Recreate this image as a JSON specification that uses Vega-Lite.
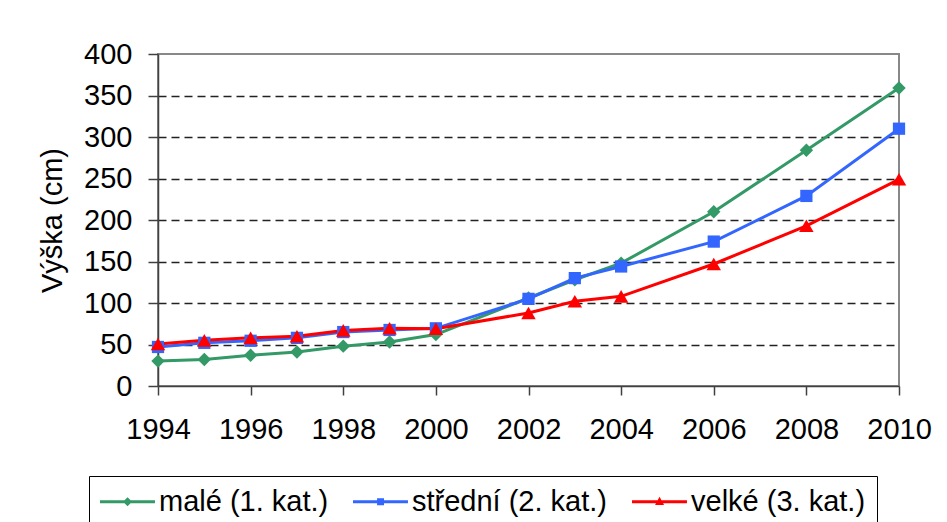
{
  "$schema": "https://vega.github.io/schema/vega-lite/v6.json",
  "autosize": "none",
  "width": 741,
  "height": 332,
  "padding": {"left": 158, "top": 54, "right": 48, "bottom": 136},
  "background": "white",
  "config": {
    "font": "Liberation Sans",
    "view": {"stroke": "#888888", "strokeWidth": 2},
    "axis": {
      "labelFont": "Liberation Sans",
      "titleFont": "Liberation Sans",
      "labelFontSize": 29,
      "titleFontSize": 29,
      "titleFontWeight": "normal",
      "labelColor": "black",
      "titleColor": "black",
      "domainColor": "#404040",
      "domainWidth": 1.5,
      "tickColor": "#404040",
      "tickWidth": 1.5
    },
    "legend": {
      "labelFont": "Liberation Sans",
      "labelFontSize": 29,
      "labelColor": "black"
    }
  },
  "data": {
    "values": [
      {"year": 1994, "series": "malé (1. kat.)", "value": 30},
      {"year": 1995, "series": "malé (1. kat.)", "value": 32},
      {"year": 1996, "series": "malé (1. kat.)", "value": 37},
      {"year": 1997, "series": "malé (1. kat.)", "value": 41},
      {"year": 1998, "series": "malé (1. kat.)", "value": 48},
      {"year": 1999, "series": "malé (1. kat.)", "value": 53},
      {"year": 2000, "series": "malé (1. kat.)", "value": 62},
      {"year": 2002, "series": "malé (1. kat.)", "value": 106},
      {"year": 2003, "series": "malé (1. kat.)", "value": 128},
      {"year": 2004, "series": "malé (1. kat.)", "value": 148},
      {"year": 2006, "series": "malé (1. kat.)", "value": 210},
      {"year": 2008, "series": "malé (1. kat.)", "value": 284},
      {"year": 2010, "series": "malé (1. kat.)", "value": 359},
      {"year": 1994, "series": "střední (2. kat.)", "value": 47},
      {"year": 1995, "series": "střední (2. kat.)", "value": 52},
      {"year": 1996, "series": "střední (2. kat.)", "value": 54.5},
      {"year": 1997, "series": "střední (2. kat.)", "value": 58},
      {"year": 1998, "series": "střední (2. kat.)", "value": 65},
      {"year": 1999, "series": "střední (2. kat.)", "value": 67.5},
      {"year": 2000, "series": "střední (2. kat.)", "value": 69.5},
      {"year": 2002, "series": "střední (2. kat.)", "value": 105},
      {"year": 2003, "series": "střední (2. kat.)", "value": 130},
      {"year": 2004, "series": "střední (2. kat.)", "value": 144},
      {"year": 2006, "series": "střední (2. kat.)", "value": 174},
      {"year": 2008, "series": "střední (2. kat.)", "value": 229},
      {"year": 2010, "series": "střední (2. kat.)", "value": 310},
      {"year": 1994, "series": "velké (3. kat.)", "value": 50.5},
      {"year": 1995, "series": "velké (3. kat.)", "value": 55},
      {"year": 1996, "series": "velké (3. kat.)", "value": 58},
      {"year": 1997, "series": "velké (3. kat.)", "value": 60},
      {"year": 1998, "series": "velké (3. kat.)", "value": 67},
      {"year": 1999, "series": "velké (3. kat.)", "value": 69.5},
      {"year": 2000, "series": "velké (3. kat.)", "value": 69},
      {"year": 2002, "series": "velké (3. kat.)", "value": 88},
      {"year": 2003, "series": "velké (3. kat.)", "value": 102},
      {"year": 2004, "series": "velké (3. kat.)", "value": 108},
      {"year": 2006, "series": "velké (3. kat.)", "value": 147},
      {"year": 2008, "series": "velké (3. kat.)", "value": 193},
      {"year": 2010, "series": "velké (3. kat.)", "value": 249}
    ]
  },
  "encoding": {
    "x": {
      "field": "year",
      "type": "quantitative",
      "scale": {"domain": [1994, 2010], "nice": false, "zero": false},
      "axis": {
        "title": null,
        "values": [1994, 1996, 1998, 2000, 2002, 2004, 2006, 2008, 2010],
        "format": "d",
        "grid": false,
        "tickSize": 9,
        "labelPadding": 20,
        "labelFlush": false,
        "labelOverlap": false
      }
    },
    "y": {
      "field": "value",
      "type": "quantitative",
      "scale": {"domain": [0, 400], "nice": false},
      "axis": {
        "title": "Výška (cm)",
        "values": [0, 50, 100, 150, 200, 250, 300, 350, 400],
        "tickSize": 10,
        "labelPadding": 16,
        "titlePadding": 16,
        "grid": true,
        "gridColor": "#222222",
        "gridWidth": 1.3,
        "gridDash": [8, 5],
        "gridOpacity": {"condition": {"test": "datum.value === 0 || datum.value === 400", "value": 0}, "value": 1}
      }
    }
  },
  "layer": [
    {
      "mark": {"type": "point", "filled": true, "size": 0, "strokeWidth": 0, "opacity": 1},
      "encoding": {
        "color": {
          "field": "series",
          "type": "nominal",
          "scale": {
            "domain": ["malé (1. kat.)", "střední (2. kat.)", "velké (3. kat.)"],
            "range": ["#339966", "#3366FF", "#FF0000"]
          },
          "legend": {
            "title": null,
            "orient": "none",
            "direction": "horizontal",
            "legendX": -69,
            "legendY": 422,
            "padding": 11,
            "strokeColor": "black",
            "fillColor": "white",
            "columnPadding": 24,
            "labelOffset": 30,
            "symbolSize": 841,
            "symbolOpacity": 1,
            "symbolStrokeWidth": 0,
            "labelLimit": 400
          }
        },
        "shape": {
          "field": "series",
          "type": "nominal",
          "scale": {
            "domain": ["malé (1. kat.)", "střední (2. kat.)", "velké (3. kat.)"],
            "range": [
              "M-1,-0.1H2.79V0.1H-1ZM0.9,-0.31L1.21,0L0.9,0.31L0.59,0Z",
              "M-1,-0.1H2.79V0.1H-1ZM0.66,-0.24H1.14V0.24H0.66Z",
              "M-1,-0.1H2.79V0.1H-1ZM0.9,-0.34L1.21,0.22L0.59,0.22Z"
            ]
          }
        }
      }
    },
    {
      "mark": {"type": "line", "strokeWidth": 3},
      "encoding": {
        "stroke": {
          "field": "series",
          "type": "nominal",
          "scale": {
            "domain": ["malé (1. kat.)", "střední (2. kat.)", "velké (3. kat.)"],
            "range": ["#339966", "#3366FF", "#FF0000"]
          },
          "legend": null
        }
      }
    },
    {
      "transform": [{"filter": "datum.series === 'malé (1. kat.)'"}],
      "mark": {"type": "point", "shape": "diamond", "filled": true, "opacity": 1, "color": "#339966", "size": 180}
    },
    {
      "transform": [{"filter": "datum.series === 'střední (2. kat.)'"}],
      "mark": {"type": "point", "shape": "square", "filled": true, "opacity": 1, "color": "#3366FF", "size": 150}
    },
    {
      "transform": [{"filter": "datum.series === 'velké (3. kat.)'"}],
      "mark": {"type": "point", "shape": "triangle-up", "filled": true, "opacity": 1, "color": "#FF0000", "size": 210}
    }
  ]
}
